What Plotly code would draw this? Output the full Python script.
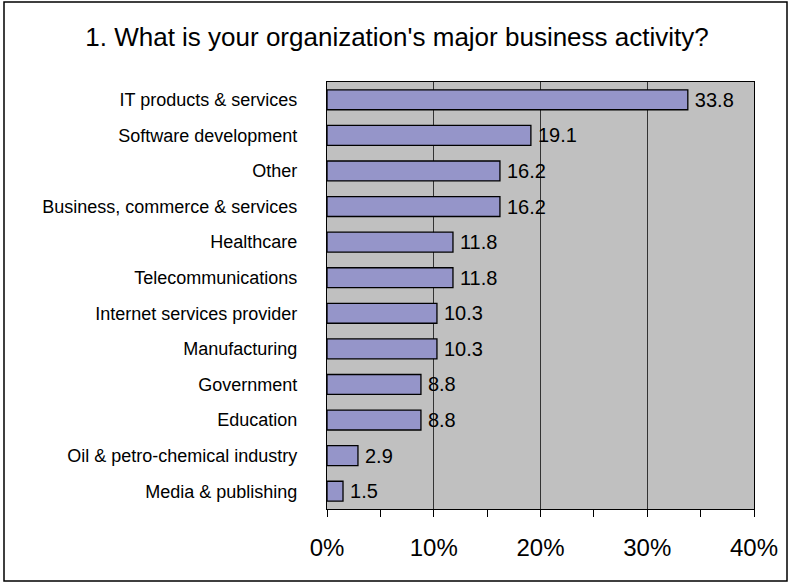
import plotly.graph_objects as go

categories = [
    "IT products & services",
    "Software development",
    "Other",
    "Business, commerce & services",
    "Healthcare",
    "Telecommunications",
    "Internet services provider",
    "Manufacturing",
    "Government",
    "Education",
    "Oil & petro-chemical industry",
    "Media & publishing",
]
values = [33.8, 19.1, 16.2, 16.2, 11.8, 11.8, 10.3, 10.3, 8.8, 8.8, 2.9, 1.5]
tick_vals = [0, 10, 20, 30, 40]
tick_text = ["0%", "10%", "20%", "30%", "40%"]

W, H = 791, 583
ML, MR, MT, MB = 327, 37, 82, 74
PW, PH = W - ML - MR, H - MT - MB

FONT = "Liberation Sans, Arial, sans-serif"

fig = go.Figure(go.Bar(
    x=values,
    y=categories,
    orientation="h",
    marker=dict(color="#9595C9", line=dict(color="#000000", width=1.3)),
    texttemplate="\u2009%{x:.1f}",
    textposition="outside",
    constraintext="none",
    cliponaxis=False,
    textfont=dict(family=FONT, size=20, color="#000000"),
))

def px_to_paper_x(px):
    return (px - ML) / PW

def px_to_paper_y(py):
    return (H - MB - py) / PH

fig.add_shape(type="rect", xref="paper", yref="paper",
              x0=px_to_paper_x(4), x1=px_to_paper_x(787),
              y0=px_to_paper_y(581), y1=px_to_paper_y(2),
              line=dict(color="#000000", width=1.5), fillcolor="rgba(0,0,0,0)",
              layer="below")

fig.update_layout(
    width=W, height=H,
    margin=dict(l=ML, r=MR, t=MT, b=MB, pad=0),
    paper_bgcolor="#FFFFFF",
    plot_bgcolor="#C0C0C0",
    bargap=0.44,
    showlegend=False,
    title=dict(text="1. What is your organization's major business activity?",
               x=397 / W, xanchor="center", xref="container",
               y=1 - 37 / H, yanchor="middle", yref="container",
               font=dict(family=FONT, size=26, color="#000000")),
    xaxis=dict(range=[0, 40], tickvals=tick_vals, ticktext=tick_text,
               ticks="outside", ticklen=7, tickwidth=1, tickcolor="#000000",
               minor=dict(dtick=5, ticks="outside", ticklen=7, tickwidth=1, tickcolor="#000000", showgrid=False),
               showgrid=True, gridcolor="#333333", gridwidth=1,
               showline=True, linecolor="#000000", linewidth=1.3, mirror=True,
               zeroline=False, ticklabelstandoff=10,
               tickfont=dict(family=FONT, size=24, color="#000000")),
    yaxis=dict(autorange="reversed", showgrid=False, ticks="",
               showline=True, linecolor="#000000", linewidth=1.3, mirror=True,
               ticklabelstandoff=25,
               tickfont=dict(family=FONT, size=18, color="#000000")),
)

fig.write_html("out.html")
